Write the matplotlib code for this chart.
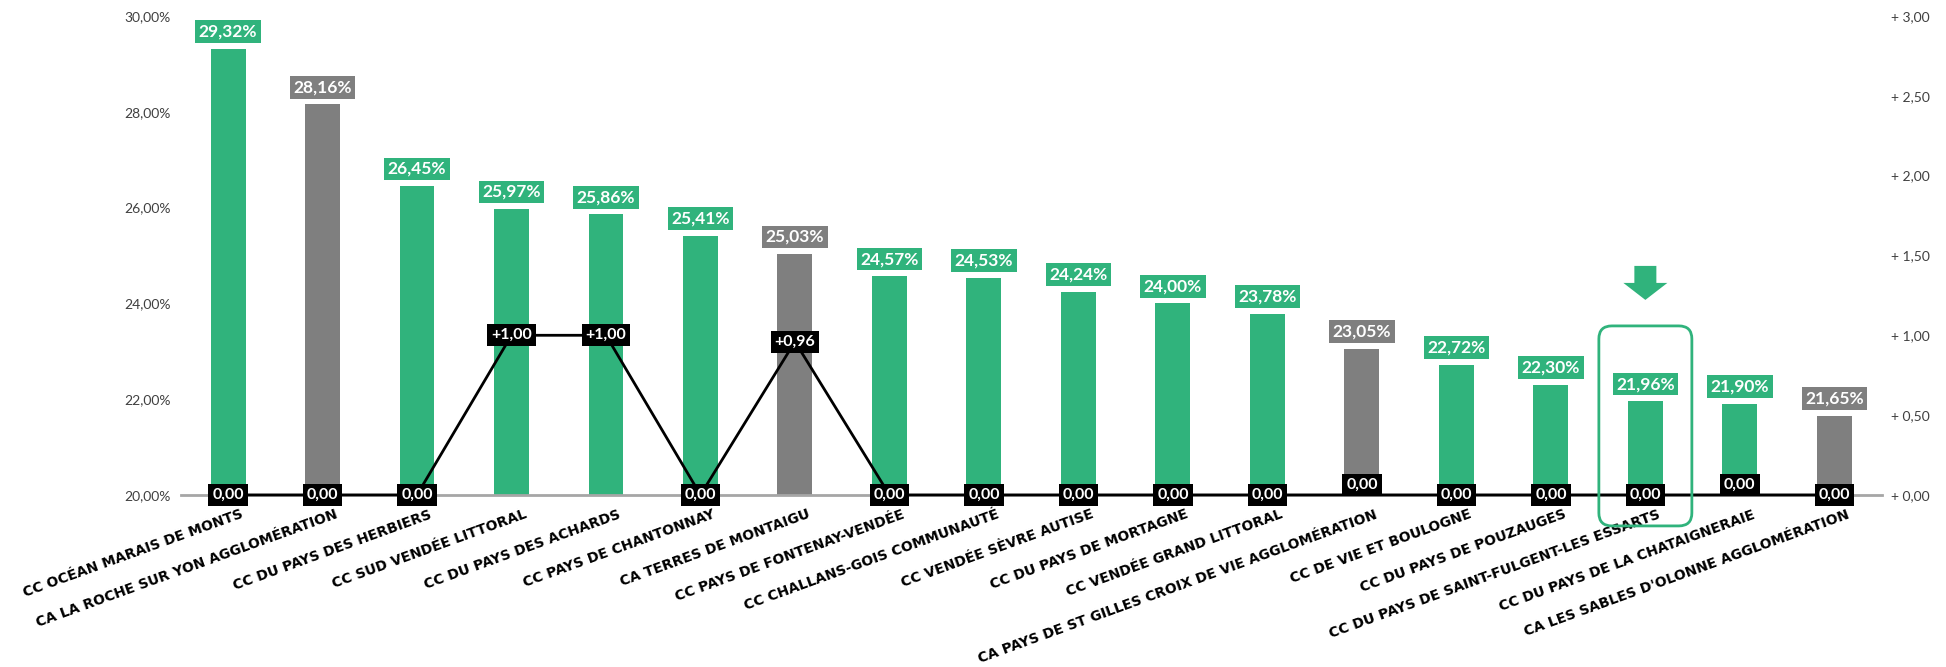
import numpy as np
import matplotlib
matplotlib.use("Agg")
import matplotlib.pyplot as plt
from matplotlib.patches import FancyBboxPatch, Polygon
from matplotlib.transforms import ScaledTranslation, IdentityTransform

# ---------------- data ----------------
categories = [
    "CC OCÉAN MARAIS DE MONTS",
    "CA LA ROCHE SUR YON AGGLOMÉRATION",
    "CC DU PAYS DES HERBIERS",
    "CC SUD VENDÉE LITTORAL",
    "CC DU PAYS DES ACHARDS",
    "CC PAYS DE CHANTONNAY",
    "CA TERRES DE MONTAIGU",
    "CC PAYS DE FONTENAY-VENDÉE",
    "CC CHALLANS-GOIS COMMUNAUTÉ",
    "CC VENDÉE SÈVRE AUTISE",
    "CC DU PAYS DE MORTAGNE",
    "CC VENDÉE GRAND LITTORAL",
    "CA PAYS DE ST GILLES CROIX DE VIE AGGLOMÉRATION",
    "CC DE VIE ET BOULOGNE",
    "CC DU PAYS DE POUZAUGES",
    "CC DU PAYS DE SAINT-FULGENT-LES ESSARTS",
    "CC DU PAYS DE LA CHATAIGNERAIE",
    "CA LES SABLES D'OLONNE AGGLOMÉRATION",
]
rates = [29.32, 28.16, 26.45, 25.97, 25.86, 25.41, 25.03, 24.57, 24.53,
         24.24, 24.00, 23.78, 23.05, 22.72, 22.30, 21.96, 21.90, 21.65]
changes = [0.00, 0.00, 0.00, 1.00, 1.00, 0.00, 0.96, 0.00, 0.00,
           0.00, 0.00, 0.00, 0.00, 0.00, 0.00, 0.00, 0.00, 0.00]
highlight = "CC DU PAYS DE SAINT-FULGENT-LES ESSARTS"
left_ticks = [20, 22, 24, 26, 28, 30]
right_ticks = [0.0, 0.5, 1.0, 1.5, 2.0, 2.5, 3.0]

GREEN = "#30B37C"
GREY = "#7F7F7F"
colors = [GREY if c.startswith("CA ") else GREEN for c in categories]

def fr(v, nd=2):
    return f"{v:.{nd}f}".replace(".", ",")

# ---------------- figure ----------------
W, H, DPI = 1946, 667, 100
fig = plt.figure(figsize=(W / DPI, H / DPI), dpi=DPI)
ax = fig.add_axes([0.0929, 0.258, 0.874, 0.718])
x = np.arange(len(categories))

ax.bar(x, rates, width=0.37, color=colors, zorder=2)
ax.set_xlim(-0.5, len(categories) - 0.5)
ax.set_ylim(20, 30)
ax.set_yticks(left_ticks)
ax.set_yticklabels([fr(t) + "%" for t in left_ticks], family="Lato",
                   fontsize=10, color="#404040")
ax.tick_params(axis="y", length=0, pad=7)
for s in ["left", "right", "top"]:
    ax.spines[s].set_visible(False)
ax.spines["bottom"].set_color("#A6A6A6")
ax.spines["bottom"].set_linewidth(2)

# x labels
ax.set_xticks(x)
ax.set_xticklabels(categories, rotation=20, ha="right", va="top",
                   rotation_mode="anchor", fontweight="bold", fontsize=10,
                   family="DejaVu Sans", color="black")
ax.tick_params(axis="x", length=0, pad=9)
for lab in ax.get_xticklabels():
    lab.set_transform(lab.get_transform() + ScaledTranslation(12 / DPI, 0, fig.dpi_scale_trans))

# bar value labels
for xi, v, c in zip(x, rates, colors):
    ax.annotate(fr(v) + "%", (xi, v), xytext=(0, 6.5), textcoords="offset points",
                ha="center", va="bottom", color="white", fontweight="bold",
                family="Lato", fontsize=12.5, zorder=5,
                bbox=dict(boxstyle="square,pad=0.2", fc=c, ec="none"))

# secondary axis line
ax2 = ax.twinx()
ax2.set_ylim(0, 3)
ax2.plot(x, changes, color="black", lw=2, zorder=3, clip_on=False)
ax2.set_yticks(right_ticks)
ax2.set_yticklabels(["+ " + fr(t) for t in right_ticks], family="Lato",
                    fontsize=10, color="#404040")
ax2.tick_params(axis="y", length=0, pad=7)
for s in ax2.spines.values():
    s.set_visible(False)

raised = {12, 16}
for xi, v in zip(x, changes):
    txt = ("+" + fr(v)) if v > 0 else fr(v)
    dy = 7 if xi in raised else 0
    ax2.annotate(txt, (xi, v), xytext=(0, dy), textcoords="offset points",
                 ha="center", va="center", color="white", fontweight="bold",
                 family="Lato", fontsize=11.5, zorder=6, annotation_clip=False,
                 bbox=dict(boxstyle="square,pad=0.25", fc="black", ec="none"))

# highlight box + arrow around the highlighted category
hi = categories.index(highlight)
cx, ybar = ax.transData.transform((hi, rates[hi]))
_, y0 = ax.transData.transform((hi, 20))
box_w = 93
box_top = y0 + 169
box_bot = y0 - 31
hb = FancyBboxPatch((cx - box_w / 2, box_bot), box_w, box_top - box_bot,
                    boxstyle="round,pad=0,rounding_size=13",
                    transform=IdentityTransform(), fc="none", ec=GREEN, lw=2,
                    zorder=10)
fig.add_artist(hb)

tip = y0 + 195
head_top = tip + 17
shaft_top = tip + 34
arrow = Polygon([(cx - 11, shaft_top), (cx + 11, shaft_top), (cx + 11, head_top),
                 (cx + 22, head_top), (cx, tip), (cx - 22, head_top),
                 (cx - 11, head_top)], closed=True, transform=IdentityTransform(),
                fc=GREEN, ec="none", zorder=10)
fig.add_artist(arrow)

fig.savefig("out.png", dpi=DPI, facecolor="white")
